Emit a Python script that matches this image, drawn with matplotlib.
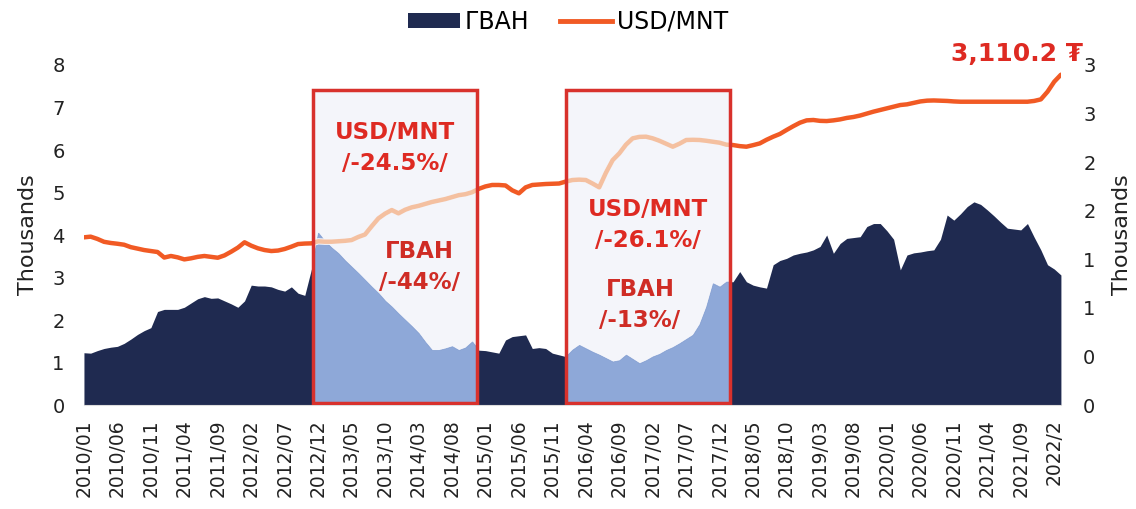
import numpy as np
import matplotlib
matplotlib.use('Agg')
import matplotlib.pyplot as plt
from matplotlib.patches import Rectangle, Patch
from matplotlib.lines import Line2D
from matplotlib.transforms import blended_transform_factory

# monthly series, 2010/01 .. 2022/03
reserves = [  # ГВАН, thousand mln USD
    1.23, 1.22, 1.28, 1.33, 1.36, 1.38, 1.45, 1.55, 1.66, 1.75,
    1.82, 2.20, 2.25, 2.25, 2.25, 2.30, 2.40, 2.50, 2.55, 2.51,
    2.52, 2.45, 2.38, 2.30, 2.45, 2.82, 2.80, 2.80, 2.78, 2.72,
    2.68, 2.78, 2.63, 2.58, 3.20, 4.05, 3.85, 3.70, 3.57, 3.40,
    3.25, 3.10, 2.94, 2.78, 2.63, 2.45, 2.31, 2.15, 2.00, 1.85,
    1.69, 1.48, 1.29, 1.29, 1.33, 1.38, 1.29, 1.35, 1.49, 1.29,
    1.28, 1.25, 1.22, 1.53, 1.61, 1.63, 1.65, 1.33, 1.35, 1.33,
    1.22, 1.18, 1.14, 1.30, 1.41, 1.33, 1.25, 1.18, 1.10, 1.02,
    1.05, 1.18, 1.08, 0.98, 1.05, 1.14, 1.20, 1.29, 1.36, 1.45,
    1.55, 1.65, 1.90, 2.31, 2.86, 2.78, 2.90, 2.90, 3.14, 2.90,
    2.82, 2.78, 2.75, 3.30, 3.40, 3.45, 3.53, 3.57, 3.60, 3.65,
    3.73, 4.00, 3.57, 3.80, 3.92, 3.94, 3.96, 4.20, 4.27, 4.27,
    4.10, 3.90, 3.18, 3.53, 3.58, 3.60, 3.63, 3.65, 3.90, 4.47,
    4.35, 4.50, 4.67, 4.78, 4.72, 4.59, 4.45, 4.30, 4.16, 4.14,
    4.12, 4.27, 3.95, 3.65, 3.30, 3.20, 3.06,
]
usd_mnt = [
    1436, 1443, 1420, 1390, 1378, 1370, 1360, 1335, 1320, 1305,
    1295, 1285, 1228, 1244, 1230, 1209, 1220, 1235, 1244, 1235,
    1226, 1250, 1288, 1330, 1385, 1350, 1323, 1305, 1295, 1300,
    1316, 1340, 1367, 1372, 1374, 1395, 1391, 1391, 1395, 1400,
    1408, 1440, 1465, 1550, 1631, 1680, 1717, 1683, 1720, 1745,
    1760, 1780, 1800, 1815, 1830, 1850, 1870, 1880, 1900, 1935,
    1960, 1975, 1975, 1970, 1920, 1889, 1950, 1975, 1980, 1985,
    1988, 1990, 2010, 2026, 2030, 2026, 1990, 1951, 2100, 2230,
    2300, 2390, 2455, 2470, 2472, 2455, 2430, 2400, 2369, 2400,
    2438, 2440, 2438, 2430, 2420, 2410, 2390, 2386, 2375, 2369,
    2385, 2403, 2440, 2472, 2500, 2541, 2580, 2616, 2640, 2644,
    2635, 2633, 2640, 2650, 2665, 2675, 2690, 2710, 2730, 2747,
    2765, 2780, 2798, 2805, 2820, 2835, 2843, 2845, 2843, 2840,
    2835, 2832, 2832, 2832, 2832, 2832, 2832, 2832, 2832, 2832,
    2832, 2832, 2840, 2856, 2935, 3038, 3110.2,
]
tick_labels = [
    '2010/01', '2010/06', '2010/11', '2011/04', '2011/09', '2012/02',
    '2012/07', '2012/12', '2013/05', '2013/10', '2014/03', '2014/08',
    '2015/01', '2015/06', '2015/11', '2016/04', '2016/09', '2017/02',
    '2017/07', '2017/12', '2018/05', '2018/10', '2019/03', '2019/08',
    '2020/01', '2020/06', '2020/11', '2021/04', '2021/09', '2022/2',
]
# highlighted periods (month index) and their notes
periods = [(34.2, 58.7), (72.0, 96.6)]
fx_notes = ['USD/MNT\n/-24.5%/', 'USD/MNT\n/-26.1%/']
res_notes = ['ГВАН\n/-44%/', 'ГВАН\n/-13%/']

NAVY = '#1f2a50'
LIGHT_BLUE = '#8ea8d8'
ORANGE = '#f15a24'
LIGHT_ORANGE = '#f4c0a0'
RED = '#de2a22'

plt.rcParams['font.family'] = ['DejaVu Sans']

x = np.arange(len(reserves))
fx = np.array(usd_mnt) / 1000

fig = plt.figure(figsize=(11.36, 5.09), dpi=100)
ax = fig.add_axes([0.0739, 0.2043, 0.8600, 0.6680])
ax2 = ax.twinx()

bt = blended_transform_factory(ax.transData, ax.transAxes)
bt2 = blended_transform_factory(ax2.transData, ax2.transAxes)
y0, h = 0.006, 0.92

ax.fill_between(x, 0, reserves, color=NAVY, lw=0, zorder=1)
ax2.plot(x, fx, color=ORANGE, lw=3.2, zorder=2, solid_capstyle='round')

for (a, b), t1, t2 in zip(periods, fx_notes, res_notes):
    bg = Rectangle((a, y0), b - a, h, transform=bt, facecolor='#f4f5fa',
                   edgecolor='none', zorder=0)
    ax.add_patch(bg)
    light = ax.fill_between(x, 0, reserves, color=LIGHT_BLUE, lw=0.8,
                            edgecolor=LIGHT_BLUE, zorder=2)
    light.set_clip_path(bg)
    clip2 = Rectangle((a, y0), b - a, h, transform=bt2, facecolor='none',
                      edgecolor='none')
    ax2.add_patch(clip2)
    # white underlay hides the strong line, then the faded copy on top
    under, = ax2.plot(x, fx, color='#f4f5fa', lw=4.6, zorder=3)
    under.set_clip_path(clip2)
    ln, = ax2.plot(x, fx, color=LIGHT_ORANGE, lw=3.2, zorder=3.5)
    ln.set_clip_path(clip2)
    ax2.add_patch(Rectangle((a, y0), b - a, h, transform=bt2, facecolor='none',
                            edgecolor='#d8312c', lw=2.5, zorder=4))

# notes inside boxes
ax2.text(46.5, 0.756, fx_notes[0], transform=bt2, ha='center', va='center',
         color=RED, fontsize=16.5, fontweight='bold', linespacing=1.45, zorder=5)
ax2.text(50.2, 0.406, res_notes[0], transform=bt2, ha='center', va='center',
         color='#cf2c25', fontsize=16.5, fontweight='bold', linespacing=1.45, zorder=5)
ax2.text(84.3, 0.529, fx_notes[1], transform=bt2, ha='center', va='center',
         color=RED, fontsize=16.5, fontweight='bold', linespacing=1.45, zorder=5)
ax2.text(83.1, 0.294, res_notes[1], transform=bt2, ha='center', va='center',
         color='#cf2c25', fontsize=16.5, fontweight='bold', linespacing=1.45, zorder=5)

ax2.annotate(f'{usd_mnt[-1]:,.1f} ₮', xy=(x[-1], fx[-1]), xytext=(16, 6),
             textcoords='offset points', ha='right', va='bottom', color=RED,
             fontsize=18, fontweight='bold', zorder=5)

ax.set_xlim(0, len(x) - 1)
ax.set_ylim(0, 8)
ax2.set_ylim(-0.29, 3.21)
ax.set_yticks(range(0, 9))
rt = -0.29 + 0.5 * np.arange(8)
ax2.set_yticks(rt)
ax2.set_yticklabels([str(int(round(v))) for v in rt])
ax.set_xticks(x[::5])
ax.set_xticklabels(tick_labels, rotation=90)

for a_ in (ax, ax2):
    for s in a_.spines.values():
        s.set_visible(False)
    a_.tick_params(length=0, labelsize=14, colors='#222222')
ax.spines['bottom'].set_visible(True)
ax.spines['bottom'].set_color('#dddddd')
ax.tick_params(axis='y', pad=14)
ax2.tick_params(axis='y', pad=16)
ax.tick_params(axis='x', pad=10, labelsize=13.5)

ax.set_ylabel('Thousands', fontsize=16, color='#222222', labelpad=10)
ax2.set_ylabel('Thousands', fontsize=16, color='#222222', labelpad=12, rotation=90)

handles = [Patch(facecolor=NAVY, edgecolor='none'),
           Line2D([], [], color=ORANGE, lw=3.5)]
fig.legend(handles, ['ГВАН', 'USD/MNT'], loc='center', bbox_to_anchor=(0.5, 0.957),
           ncol=2, frameon=False, fontsize=17, handlelength=2.2, handleheight=0.55,
           handletextpad=0.2, columnspacing=1.3)

fig.savefig('out.png', dpi=100)
